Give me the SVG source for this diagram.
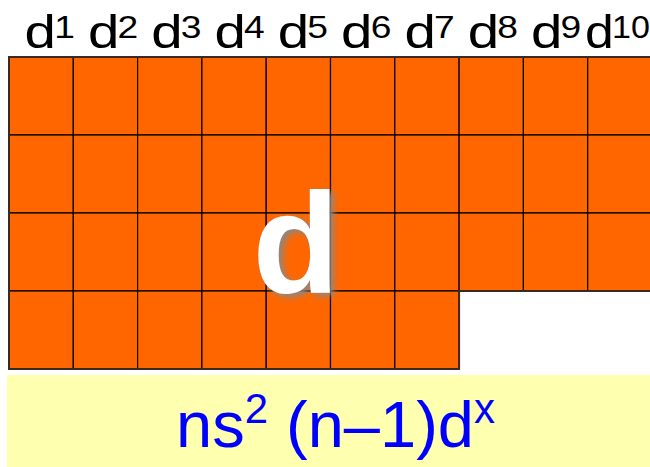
<svg xmlns="http://www.w3.org/2000/svg" width="650" height="467" viewBox="0 0 650 467">
<style>
.cell{fill:#FF6600;stroke:#000;stroke-width:1.2}
.outline{fill:none;stroke:#3a2a20;stroke-width:2}
.hd{font-family:"Liberation Sans",Arial,sans-serif;font-size:47px;fill:#000}
.sup{font-size:31px}
.big{font-family:"Liberation Sans",Arial,sans-serif;font-weight:bold;font-size:142px}
.cfg{font-family:"Liberation Sans",Arial,sans-serif;font-size:65px;fill:#0000FF}
.csup{font-size:42px}
</style>
<defs>
<filter id="blur" x="-20%" y="-20%" width="140%" height="140%">
<feGaussianBlur stdDeviation="3"/>
</filter>
</defs>
<rect width="650" height="467" fill="#fff"/>
<g id="grid">
<g id="row1">
<rect class="cell" x="9" y="57" width="64.3" height="78"/>
<rect class="cell" x="73.3" y="57" width="64.3" height="78"/>
<rect class="cell" x="137.6" y="57" width="64.3" height="78"/>
<rect class="cell" x="201.9" y="57" width="64.3" height="78"/>
<rect class="cell" x="266.2" y="57" width="64.3" height="78"/>
<rect class="cell" x="330.5" y="57" width="64.3" height="78"/>
<rect class="cell" x="394.8" y="57" width="64.3" height="78"/>
<rect class="cell" x="459.1" y="57" width="64.3" height="78"/>
<rect class="cell" x="523.4" y="57" width="64.3" height="78"/>
<rect class="cell" x="587.7" y="57" width="64.3" height="78"/>
</g>
<g id="row2">
<rect class="cell" x="9" y="135" width="64.3" height="78"/>
<rect class="cell" x="73.3" y="135" width="64.3" height="78"/>
<rect class="cell" x="137.6" y="135" width="64.3" height="78"/>
<rect class="cell" x="201.9" y="135" width="64.3" height="78"/>
<rect class="cell" x="266.2" y="135" width="64.3" height="78"/>
<rect class="cell" x="330.5" y="135" width="64.3" height="78"/>
<rect class="cell" x="394.8" y="135" width="64.3" height="78"/>
<rect class="cell" x="459.1" y="135" width="64.3" height="78"/>
<rect class="cell" x="523.4" y="135" width="64.3" height="78"/>
<rect class="cell" x="587.7" y="135" width="64.3" height="78"/>
</g>
<g id="row3">
<rect class="cell" x="9" y="213" width="64.3" height="78"/>
<rect class="cell" x="73.3" y="213" width="64.3" height="78"/>
<rect class="cell" x="137.6" y="213" width="64.3" height="78"/>
<rect class="cell" x="201.9" y="213" width="64.3" height="78"/>
<rect class="cell" x="266.2" y="213" width="64.3" height="78"/>
<rect class="cell" x="330.5" y="213" width="64.3" height="78"/>
<rect class="cell" x="394.8" y="213" width="64.3" height="78"/>
<rect class="cell" x="459.1" y="213" width="64.3" height="78"/>
<rect class="cell" x="523.4" y="213" width="64.3" height="78"/>
<rect class="cell" x="587.7" y="213" width="64.3" height="78"/>
</g>
<g id="row4">
<rect class="cell" x="9" y="291" width="64.3" height="78"/>
<rect class="cell" x="73.3" y="291" width="64.3" height="78"/>
<rect class="cell" x="137.6" y="291" width="64.3" height="78"/>
<rect class="cell" x="201.9" y="291" width="64.3" height="78"/>
<rect class="cell" x="266.2" y="291" width="64.3" height="78"/>
<rect class="cell" x="330.5" y="291" width="64.3" height="78"/>
<rect class="cell" x="394.8" y="291" width="64.3" height="78"/>
</g>
<path class="outline" d="M9,57 H652 V291 H459.1 V369 H9 Z"/>
</g>
<g id="labels">
<text class="hd" transform="translate(24.6,48) scale(1.2,1)">d<tspan class="sup" dx="-1.5" dy="-10">1</tspan></text>
<text class="hd" transform="translate(87.9,48) scale(1.2,1)">d<tspan class="sup" dx="-1.5" dy="-10">2</tspan></text>
<text class="hd" transform="translate(151.2,48) scale(1.2,1)">d<tspan class="sup" dx="-1.5" dy="-10">3</tspan></text>
<text class="hd" transform="translate(214.5,48) scale(1.2,1)">d<tspan class="sup" dx="-1.5" dy="-10">4</tspan></text>
<text class="hd" transform="translate(277.8,48) scale(1.2,1)">d<tspan class="sup" dx="-1.5" dy="-10">5</tspan></text>
<text class="hd" transform="translate(341.1,48) scale(1.2,1)">d<tspan class="sup" dx="-1.5" dy="-10">6</tspan></text>
<text class="hd" transform="translate(404.4,48) scale(1.2,1)">d<tspan class="sup" dx="-1.5" dy="-10">7</tspan></text>
<text class="hd" transform="translate(467.7,48) scale(1.2,1)">d<tspan class="sup" dx="-1.5" dy="-10">8</tspan></text>
<text class="hd" transform="translate(531,48) scale(1.2,1)">d<tspan class="sup" dx="-1.5" dy="-10">9</tspan></text>
<text class="hd" transform="translate(585,48) scale(1.1,1)">d<tspan class="sup" dx="-1.5" dy="-10">10</tspan></text>
</g>
<g id="block-label">
<text class="big" x="256.6" y="296" fill="#888" filter="url(#blur)">d</text>
<text class="big" x="252.6" y="293" fill="#fff">d</text>
</g>
<g id="config">
<rect x="7" y="375" width="643" height="92" fill="#FFFFB0"/>
<text class="cfg" x="176" y="447">ns<tspan class="csup" dy="-24">2</tspan><tspan dy="24"> (n–1)d</tspan><tspan class="csup" dy="-24">x</tspan></text>
</g>
</svg>
